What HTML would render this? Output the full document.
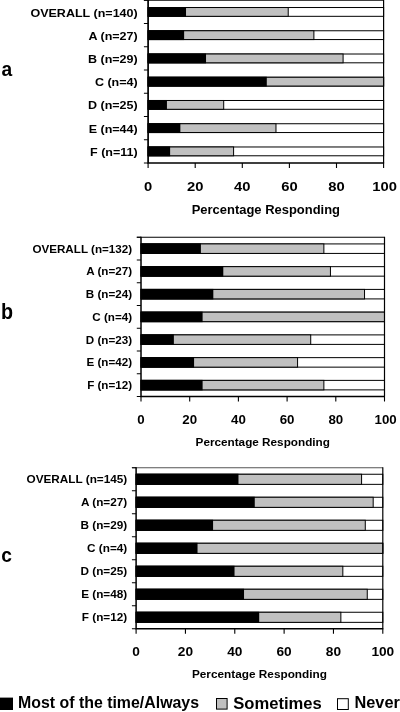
<!DOCTYPE html>
<html lang="en"><head><meta charset="utf-8"><title>Percentage Responding</title>
<style>html,body{margin:0;padding:0;background:#fff}svg{display:block;filter:blur(0.4px)}text{font-family:"Liberation Sans", Arial, Helvetica, sans-serif;font-weight:bold;fill:#000}</style></head><body>
<svg width="400" height="712" viewBox="0 0 400 712">
<rect width="400" height="712" fill="#fff"/>
<g>
<rect x="148.1" y="7.52" width="235.5" height="8.8" fill="#fff" stroke="#000" stroke-width="1"/>
<rect x="148.1" y="7.52" width="140.12" height="8.8" fill="#c0c0c0" stroke="#000" stroke-width="1"/>
<rect x="148.1" y="7.02" width="37.92" height="9.8" fill="#000"/>
<text transform="translate(137.7 16.52) scale(1.09 1)" font-size="11.5" text-anchor="end">OVERALL (n=140)</text>
<rect x="148.1" y="30.76" width="235.5" height="8.8" fill="#fff" stroke="#000" stroke-width="1"/>
<rect x="148.1" y="30.76" width="165.79" height="8.8" fill="#c0c0c0" stroke="#000" stroke-width="1"/>
<rect x="148.1" y="30.26" width="36.03" height="9.8" fill="#000"/>
<text transform="translate(137.7 39.76) scale(1.09 1)" font-size="11.5" text-anchor="end">A (n=27)</text>
<rect x="148.1" y="54.01" width="235.5" height="8.8" fill="#fff" stroke="#000" stroke-width="1"/>
<rect x="148.1" y="54.01" width="194.99" height="8.8" fill="#c0c0c0" stroke="#000" stroke-width="1"/>
<rect x="148.1" y="53.51" width="57.93" height="9.8" fill="#000"/>
<text transform="translate(137.7 63.01) scale(1.09 1)" font-size="11.5" text-anchor="end">B (n=29)</text>
<rect x="148.1" y="77.25" width="235.5" height="8.8" fill="#fff" stroke="#000" stroke-width="1"/>
<rect x="148.1" y="77.25" width="235.5" height="8.8" fill="#c0c0c0" stroke="#000" stroke-width="1"/>
<rect x="148.1" y="76.75" width="118.69" height="9.8" fill="#000"/>
<text transform="translate(137.7 86.25) scale(1.09 1)" font-size="11.5" text-anchor="end">C (n=4)</text>
<rect x="148.1" y="100.49" width="235.5" height="8.8" fill="#fff" stroke="#000" stroke-width="1"/>
<rect x="148.1" y="100.49" width="75.6" height="8.8" fill="#c0c0c0" stroke="#000" stroke-width="1"/>
<rect x="148.1" y="99.99" width="18.84" height="9.8" fill="#000"/>
<text transform="translate(137.7 109.49) scale(1.09 1)" font-size="11.5" text-anchor="end">D (n=25)</text>
<rect x="148.1" y="123.74" width="235.5" height="8.8" fill="#fff" stroke="#000" stroke-width="1"/>
<rect x="148.1" y="123.74" width="127.88" height="8.8" fill="#c0c0c0" stroke="#000" stroke-width="1"/>
<rect x="148.1" y="123.24" width="32.26" height="9.8" fill="#000"/>
<text transform="translate(137.7 132.74) scale(1.09 1)" font-size="11.5" text-anchor="end">E (n=44)</text>
<rect x="148.1" y="146.98" width="235.5" height="8.8" fill="#fff" stroke="#000" stroke-width="1"/>
<rect x="148.1" y="146.98" width="85.49" height="8.8" fill="#c0c0c0" stroke="#000" stroke-width="1"/>
<rect x="148.1" y="146.48" width="22.02" height="9.8" fill="#000"/>
<text transform="translate(137.7 155.98) scale(1.09 1)" font-size="11.5" text-anchor="end">F (n=11)</text>
<path d="M143.9 0.3H383.6" fill="none" stroke="#000" stroke-width="1.1"/>
<path d="M383.6 -0.2V163" fill="none" stroke="#000" stroke-width="1.2"/>
<path d="M148.1 -0.2V163H384.1" fill="none" stroke="#000" stroke-width="1.7"/>
<path d="M143.9 0.3H148.1M143.9 23.54H148.1M143.9 46.79H148.1M143.9 70.03H148.1M143.9 93.27H148.1M143.9 116.51H148.1M143.9 139.76H148.1M143.9 163H148.1M148.1 163V168M195.2 163V168M242.3 163V168M289.4 163V168M336.5 163V168M383.6 163V168" fill="none" stroke="#000" stroke-width="1.1"/>
<text transform="translate(148.1 190.9) scale(1.08 1)" font-size="13.7" text-anchor="middle">0</text>
<text transform="translate(195.2 190.9) scale(1.08 1)" font-size="13.7" text-anchor="middle">20</text>
<text transform="translate(242.3 190.9) scale(1.08 1)" font-size="13.7" text-anchor="middle">40</text>
<text transform="translate(289.4 190.9) scale(1.08 1)" font-size="13.7" text-anchor="middle">60</text>
<text transform="translate(336.5 190.9) scale(1.08 1)" font-size="13.7" text-anchor="middle">80</text>
<text transform="translate(384.7 190.9) scale(1.08 1)" font-size="13.7" text-anchor="middle">100</text>
<text x="265.85" y="213.7" font-size="12.2" text-anchor="middle" textLength="148.3" lengthAdjust="spacingAndGlyphs">Percentage Responding</text>
<text transform="translate(1.5 75.7) scale(0.96 1)" font-size="20" text-anchor="start">a</text>
</g>
<g>
<rect x="141" y="243.92" width="243.5" height="9.5" fill="#fff" stroke="#000" stroke-width="1"/>
<rect x="141" y="243.92" width="182.87" height="9.5" fill="#c0c0c0" stroke="#000" stroke-width="1"/>
<rect x="141" y="243.42" width="59.9" height="10.5" fill="#000"/>
<text transform="translate(132.1 252.67) scale(1.12 1)" font-size="10.4" text-anchor="end">OVERALL (n=132)</text>
<rect x="141" y="266.66" width="243.5" height="9.5" fill="#fff" stroke="#000" stroke-width="1"/>
<rect x="141" y="266.66" width="189.44" height="9.5" fill="#c0c0c0" stroke="#000" stroke-width="1"/>
<rect x="141" y="266.16" width="82.3" height="10.5" fill="#000"/>
<text transform="translate(132.1 275.41) scale(1.12 1)" font-size="10.4" text-anchor="end">A (n=27)</text>
<rect x="141" y="289.41" width="243.5" height="9.5" fill="#fff" stroke="#000" stroke-width="1"/>
<rect x="141" y="289.41" width="223.53" height="9.5" fill="#c0c0c0" stroke="#000" stroke-width="1"/>
<rect x="141" y="288.91" width="72.32" height="10.5" fill="#000"/>
<text transform="translate(132.1 298.16) scale(1.12 1)" font-size="10.4" text-anchor="end">B (n=24)</text>
<rect x="141" y="312.15" width="243.5" height="9.5" fill="#fff" stroke="#000" stroke-width="1"/>
<rect x="141" y="312.15" width="243.5" height="9.5" fill="#c0c0c0" stroke="#000" stroke-width="1"/>
<rect x="141" y="311.65" width="61.61" height="10.5" fill="#000"/>
<text transform="translate(132.1 320.9) scale(1.12 1)" font-size="10.4" text-anchor="end">C (n=4)</text>
<rect x="141" y="334.89" width="243.5" height="9.5" fill="#fff" stroke="#000" stroke-width="1"/>
<rect x="141" y="334.89" width="169.72" height="9.5" fill="#c0c0c0" stroke="#000" stroke-width="1"/>
<rect x="141" y="334.39" width="32.87" height="10.5" fill="#000"/>
<text transform="translate(132.1 343.64) scale(1.12 1)" font-size="10.4" text-anchor="end">D (n=23)</text>
<rect x="141" y="357.64" width="243.5" height="9.5" fill="#fff" stroke="#000" stroke-width="1"/>
<rect x="141" y="357.64" width="156.57" height="9.5" fill="#c0c0c0" stroke="#000" stroke-width="1"/>
<rect x="141" y="357.14" width="53.08" height="10.5" fill="#000"/>
<text transform="translate(132.1 366.39) scale(1.12 1)" font-size="10.4" text-anchor="end">E (n=42)</text>
<rect x="141" y="380.38" width="243.5" height="9.5" fill="#fff" stroke="#000" stroke-width="1"/>
<rect x="141" y="380.38" width="182.87" height="9.5" fill="#c0c0c0" stroke="#000" stroke-width="1"/>
<rect x="141" y="379.88" width="61.61" height="10.5" fill="#000"/>
<text transform="translate(132.1 389.13) scale(1.12 1)" font-size="10.4" text-anchor="end">F (n=12)</text>
<path d="M136.8 237.3H384.5" fill="none" stroke="#000" stroke-width="1.1"/>
<path d="M384.5 236.8V396.5" fill="none" stroke="#000" stroke-width="1.2"/>
<path d="M141 236.8V396.5H385" fill="none" stroke="#000" stroke-width="1.5"/>
<path d="M136.8 237.3H141M136.8 260.04H141M136.8 282.79H141M136.8 305.53H141M136.8 328.27H141M136.8 351.01H141M136.8 373.76H141M136.8 396.5H141M141 396.5V401.5M189.7 396.5V401.5M238.4 396.5V401.5M287.1 396.5V401.5M335.8 396.5V401.5M384.5 396.5V401.5" fill="none" stroke="#000" stroke-width="1.1"/>
<text transform="translate(141 424) scale(1 1)" font-size="13.3" text-anchor="middle">0</text>
<text transform="translate(189.7 424) scale(1 1)" font-size="13.3" text-anchor="middle">20</text>
<text transform="translate(238.4 424) scale(1 1)" font-size="13.3" text-anchor="middle">40</text>
<text transform="translate(287.1 424) scale(1 1)" font-size="13.3" text-anchor="middle">60</text>
<text transform="translate(335.8 424) scale(1 1)" font-size="13.3" text-anchor="middle">80</text>
<text transform="translate(385.6 424) scale(1 1)" font-size="13.3" text-anchor="middle">100</text>
<text x="262.75" y="445.5" font-size="11.6" text-anchor="middle" textLength="134.4" lengthAdjust="spacingAndGlyphs">Percentage Responding</text>
<text transform="translate(0.9 319.2) scale(0.93 1)" font-size="21.2" text-anchor="start">b</text>
</g>
<g>
<rect x="136.1" y="474.25" width="246.7" height="10.1" fill="#fff" stroke="#000" stroke-width="1"/>
<rect x="136.1" y="474.25" width="225.48" height="10.1" fill="#c0c0c0" stroke="#000" stroke-width="1"/>
<rect x="136.1" y="473.75" width="102.38" height="11.1" fill="#000"/>
<text transform="translate(127.2 483.3) scale(1.07 1)" font-size="11" text-anchor="end">OVERALL (n=145)</text>
<rect x="136.1" y="497.25" width="246.7" height="10.1" fill="#fff" stroke="#000" stroke-width="1"/>
<rect x="136.1" y="497.25" width="237.08" height="10.1" fill="#c0c0c0" stroke="#000" stroke-width="1"/>
<rect x="136.1" y="496.75" width="118.66" height="11.1" fill="#000"/>
<text transform="translate(127.2 506.3) scale(1.07 1)" font-size="11" text-anchor="end">A (n=27)</text>
<rect x="136.1" y="520.25" width="246.7" height="10.1" fill="#fff" stroke="#000" stroke-width="1"/>
<rect x="136.1" y="520.25" width="229.18" height="10.1" fill="#c0c0c0" stroke="#000" stroke-width="1"/>
<rect x="136.1" y="519.75" width="76.97" height="11.1" fill="#000"/>
<text transform="translate(127.2 529.3) scale(1.07 1)" font-size="11" text-anchor="end">B (n=29)</text>
<rect x="136.1" y="543.25" width="246.7" height="10.1" fill="#fff" stroke="#000" stroke-width="1"/>
<rect x="136.1" y="543.25" width="246.7" height="10.1" fill="#c0c0c0" stroke="#000" stroke-width="1"/>
<rect x="136.1" y="542.75" width="61.43" height="11.1" fill="#000"/>
<text transform="translate(127.2 552.3) scale(1.07 1)" font-size="11" text-anchor="end">C (n=4)</text>
<rect x="136.1" y="566.25" width="246.7" height="10.1" fill="#fff" stroke="#000" stroke-width="1"/>
<rect x="136.1" y="566.25" width="206.73" height="10.1" fill="#c0c0c0" stroke="#000" stroke-width="1"/>
<rect x="136.1" y="565.75" width="98.43" height="11.1" fill="#000"/>
<text transform="translate(127.2 575.3) scale(1.07 1)" font-size="11" text-anchor="end">D (n=25)</text>
<rect x="136.1" y="589.25" width="246.7" height="10.1" fill="#fff" stroke="#000" stroke-width="1"/>
<rect x="136.1" y="589.25" width="231.16" height="10.1" fill="#c0c0c0" stroke="#000" stroke-width="1"/>
<rect x="136.1" y="588.75" width="107.93" height="11.1" fill="#000"/>
<text transform="translate(127.2 598.3) scale(1.07 1)" font-size="11" text-anchor="end">E (n=48)</text>
<rect x="136.1" y="612.25" width="246.7" height="10.1" fill="#fff" stroke="#000" stroke-width="1"/>
<rect x="136.1" y="612.25" width="204.76" height="10.1" fill="#c0c0c0" stroke="#000" stroke-width="1"/>
<rect x="136.1" y="611.75" width="123.1" height="11.1" fill="#000"/>
<text transform="translate(127.2 621.3) scale(1.07 1)" font-size="11" text-anchor="end">F (n=12)</text>
<path d="M131.9 467.8H382.8" fill="none" stroke="#555" stroke-width="1.1"/>
<path d="M382.8 467.3V628.8" fill="none" stroke="#000" stroke-width="1.2"/>
<path d="M136.1 467.3V628.8H383.3" fill="none" stroke="#000" stroke-width="1.5"/>
<path d="M131.9 467.8H136.1M131.9 490.8H136.1M131.9 513.8H136.1M131.9 536.8H136.1M131.9 559.8H136.1M131.9 582.8H136.1M131.9 605.8H136.1M131.9 628.8H136.1M136.1 628.8V633.8M185.44 628.8V633.8M234.78 628.8V633.8M284.12 628.8V633.8M333.46 628.8V633.8M382.8 628.8V633.8" fill="none" stroke="#000" stroke-width="1.1"/>
<text transform="translate(136.1 656.2) scale(1 1)" font-size="13.7" text-anchor="middle">0</text>
<text transform="translate(185.44 656.2) scale(1 1)" font-size="13.7" text-anchor="middle">20</text>
<text transform="translate(234.78 656.2) scale(1 1)" font-size="13.7" text-anchor="middle">40</text>
<text transform="translate(284.12 656.2) scale(1 1)" font-size="13.7" text-anchor="middle">60</text>
<text transform="translate(333.46 656.2) scale(1 1)" font-size="13.7" text-anchor="middle">80</text>
<text transform="translate(382.8 656.2) scale(1 1)" font-size="13.7" text-anchor="middle">100</text>
<text x="259.45" y="677.6" font-size="11.5" text-anchor="middle" textLength="135" lengthAdjust="spacingAndGlyphs">Percentage Responding</text>
<text transform="translate(1.3 562.1) scale(0.98 1)" font-size="19.6" text-anchor="start">c</text>
</g>
<g>
<rect x="0" y="697.6" width="13" height="12.4" fill="#000"/>
<text x="18" y="708" font-size="16.6" textLength="181" lengthAdjust="spacingAndGlyphs">Most of the time/Always</text>
<rect x="216.5" y="698.5" width="10.6" height="10.6" fill="#c0c0c0" stroke="#000" stroke-width="1"/>
<text x="233.2" y="708.5" font-size="16.4" textLength="88.6" lengthAdjust="spacingAndGlyphs">Sometimes</text>
<rect x="337.5" y="698.7" width="10.8" height="10.8" fill="#fff" stroke="#000" stroke-width="1"/>
<text x="354.5" y="708" font-size="16" textLength="45.3" lengthAdjust="spacingAndGlyphs">Never</text>
</g>
</svg></body></html>
